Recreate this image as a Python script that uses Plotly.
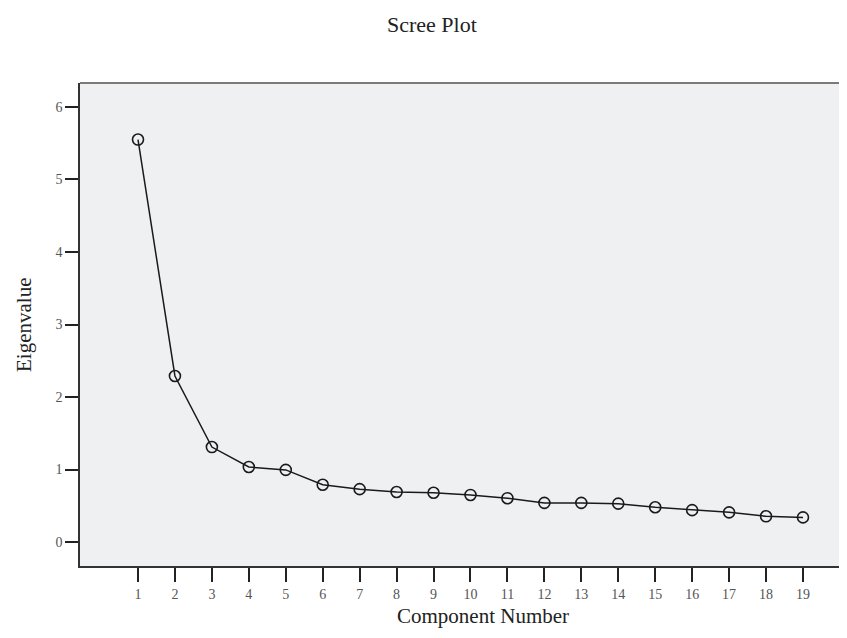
import plotly.graph_objects as go

components = list(range(1, 20))
eigenvalues = [5.55, 2.29, 1.31, 1.035, 0.995, 0.79, 0.73, 0.69, 0.68, 0.65,
               0.605, 0.54, 0.54, 0.53, 0.48, 0.44, 0.41, 0.355, 0.34]
y_ticks = [0, 1, 2, 3, 4, 5, 6]

SERIF = "Liberation Serif, Times New Roman, serif"

fig = go.Figure()
fig.add_trace(go.Scatter(
    x=components, y=eigenvalues, mode="lines+markers",
    line=dict(color="#1a1a1a", width=1.5),
    marker=dict(symbol="circle-open", size=11, color="#1a1a1a",
                line=dict(width=1.6, color="#1a1a1a")),
    showlegend=False, hoverinfo="x+y",
))

fig.update_layout(
    width=831, height=622,
    margin=dict(l=72, r=0, t=75, b=64),
    paper_bgcolor="white", plot_bgcolor="#eff0f2",
    font=dict(family=SERIF, color="#222"),
    xaxis=dict(
        range=[-0.57, 19.975], tickvals=components,
        ticktext=[str(c) for c in components],
        ticks="outside", ticklen=14, tickwidth=1.6, tickcolor="#222",
        showgrid=False, zeroline=False,
        showline=True, linecolor="#333", linewidth=1.5,
        tickfont=dict(family=SERIF, size=14, color="#555"),
    ),
    yaxis=dict(
        range=[-0.33, 6.33], tickvals=y_ticks,
        ticks="outside", ticklen=13, tickwidth=1.6, tickcolor="#222",
        showgrid=False, zeroline=False,
        showline=True, linecolor="#333", linewidth=1.5,
        tickfont=dict(family=SERIF, size=14, color="#555"),
    ),
    shapes=[dict(type="line", xref="paper", yref="paper", x0=0, x1=1, y0=1, y1=1,
                 line=dict(color="#7a7a7a", width=2))],
    annotations=[
        dict(text="Scree Plot", xref="paper", yref="paper", x=(432 - 80) / 759,
             y=1, yshift=59, showarrow=False, xanchor="center", yanchor="middle",
             font=dict(family=SERIF, size=22, color="#222")),
        dict(text="Component Number", xref="paper", yref="paper", x=(483 - 80) / 759,
             y=0, yshift=-50, showarrow=False, xanchor="center", yanchor="middle",
             font=dict(family=SERIF, size=21, color="#222")),
        dict(text="Eigenvalue", xref="paper", yref="paper", x=0, xshift=-56,
             y=(566 - 325) / 483, showarrow=False, textangle=-90,
             xanchor="center", yanchor="middle",
             font=dict(family=SERIF, size=21, color="#222")),
    ],
)

fig.write_html("out.html")
